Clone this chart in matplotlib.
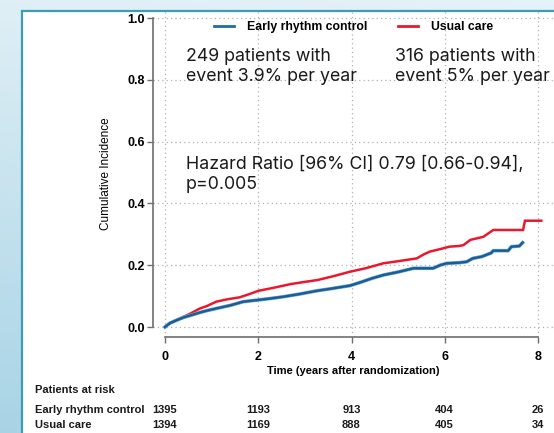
import numpy as np
import matplotlib
matplotlib.use("Agg")
import matplotlib.pyplot as plt
import matplotlib.patheffects as pe
from matplotlib.patches import Rectangle
from matplotlib.lines import Line2D

# ---- data ----
erc_t = [0.0, 0.1, 0.25, 0.4, 0.6, 0.75, 0.9, 1.1, 1.4, 1.68, 1.97, 2.25, 2.54, 2.9, 3.25, 3.6, 3.97, 4.2, 4.45, 4.68, 5.0, 5.33, 5.75, 5.9, 6.04, 6.3, 6.47, 6.6, 6.8, 7.0, 7.04, 7.36, 7.43, 7.6, 7.67]
erc_y = [0.0, 0.012, 0.022, 0.031, 0.040, 0.047, 0.053, 0.060, 0.070, 0.082, 0.087, 0.092, 0.098, 0.107, 0.117, 0.125, 0.134, 0.145, 0.158, 0.168, 0.178, 0.190, 0.190, 0.200, 0.206, 0.208, 0.211, 0.222, 0.228, 0.240, 0.247, 0.247, 0.260, 0.262, 0.273]
uc_t = [0.0, 0.1, 0.25, 0.5, 0.75, 0.9, 1.1, 1.35, 1.6, 1.8, 2.0, 2.3, 2.7, 3.0, 3.27, 3.6, 3.97, 4.3, 4.68, 5.0, 5.4, 5.55, 5.68, 5.9, 6.1, 6.3, 6.4, 6.55, 6.83, 7.04, 7.68, 7.72, 8.07]
uc_y = [0.0, 0.013, 0.023, 0.040, 0.060, 0.068, 0.082, 0.090, 0.096, 0.106, 0.117, 0.126, 0.139, 0.146, 0.152, 0.164, 0.179, 0.190, 0.206, 0.213, 0.222, 0.235, 0.244, 0.252, 0.260, 0.262, 0.265, 0.282, 0.292, 0.314, 0.314, 0.344, 0.344]

series_labels = ["Early rhythm control", "Usual care"]
x_ticks = [0, 2, 4, 6, 8]
y_ticks = [0.0, 0.2, 0.4, 0.6, 0.8, 1.0]
risk_erc = [1395, 1193, 913, 404, 26]
risk_uc = [1394, 1169, 888, 405, 34]

BLUE = "#1d5b95"
BLUE_LEG = "#1f6ca8"
RED = "#e8192c"

W, H = 554, 433
fig = plt.figure(figsize=(W / 100, H / 100), dpi=100)

# background gradient
bg = fig.add_axes([0, 0, 1, 1], zorder=-10)
gy = np.linspace(0, 1, 200)[:, None]
gx = np.linspace(0, 1, 200)[None, :]
c_top = np.array([0.90, 0.95, 0.97])
c_bot = np.array([0.66, 0.83, 0.90])
f = np.clip(gy * 0.9 + (1 - gx) * 0.1, 0, 1)[..., None]
img = c_top * (1 - f) + c_bot * f
bg.imshow(img, aspect="auto", extent=[0, 1, 0, 1], origin="upper")
bg.set_xlim(0, 1); bg.set_ylim(0, 1)
bg.axis("off")
# white panel with teal border
px0, py0 = 22 / W, 1 - 11 / H
bg.add_patch(Rectangle((px0, -0.05), 1.1, py0 + 0.05, facecolor="white",
                       edgecolor="#3a9cb6", linewidth=1.6, zorder=2))

# main axes
x_left_px, x_right_px = 153, 554
y_top_px, y_bot_px = 10.3, 337
ax = fig.add_axes([x_left_px / W, (H - y_bot_px) / H,
                   (x_right_px - x_left_px) / W, (y_bot_px - y_top_px) / H])
ax.set_facecolor("none")
ppx = (538 - 165) / 8.0
ax.set_xlim(-(165 - x_left_px) / ppx, 8 + (x_right_px - 538) / ppx)
ppy = (327 - 18) / 1.0
ax.set_ylim(-(y_bot_px - 327) / ppy, 1 + (18 - y_top_px) / ppy)

ax.grid(True, color="#b0b0b0", linestyle=(0, (1, 2.5)), linewidth=0.9)
ax.set_xticks(x_ticks)
ax.set_yticks(y_ticks)
ax.set_xticklabels([str(v) for v in x_ticks])
ax.set_yticklabels([f"{v:.1f}" for v in y_ticks])
for s in ["top", "right"]:
    ax.spines[s].set_visible(False)
ax.spines["left"].set_bounds(0, 1)
ax.spines["bottom"].set_bounds(0, 8)
for s in ["left", "bottom"]:
    ax.spines[s].set_color("#6e6e6e")
    ax.spines[s].set_linewidth(1.2)
ax.tick_params(axis="both", colors="#6e6e6e", length=4, width=1.0)
for lab in ax.get_xticklabels() + ax.get_yticklabels():
    lab.set_color("black")
    lab.set_fontfamily(["Liberation Sans", "DejaVu Sans"])
    lab.set_fontweight("bold")
    lab.set_fontsize(9)
ax.tick_params(axis="y", pad=2)
ax.tick_params(axis="x", pad=6)

ax.set_ylabel("Cumulative Incidence", family=["Liberation Sans Narrow", "Liberation Sans"],
              fontsize=8.5, labelpad=11)
ax.set_xlabel("Time (years after randomization)", family=["Liberation Sans", "DejaVu Sans"],
              fontweight="bold", fontsize=8, labelpad=2)

ax.plot(uc_t, uc_y, color=RED, linewidth=1.8, zorder=3, solid_joinstyle="miter")
ax.plot(erc_t, erc_y, color=BLUE, linewidth=1.7, zorder=4,
        path_effects=[pe.Stroke(linewidth=2.6, foreground="#6aaad6"), pe.Normal()])

handles = [Line2D([], [], color=BLUE_LEG, lw=2), Line2D([], [], color=RED, lw=2)]
ax.legend(handles, series_labels, loc="upper center", bbox_to_anchor=(0.5, 1.0),
          ncol=2, frameon=False, handlelength=1.64, columnspacing=2.5, handletextpad=1.05,
          prop=dict(family="Liberation Sans", weight="bold", size=8.8))

annot = dict(family=["Inter", "DejaVu Sans"], fontsize=12.8, color="#1a1a1a",
             linespacing=1.2, va="top", ha="left")
ax.text(0.45, 0.902, "249 patients with\nevent 3.9% per year", **annot)
ax.text(4.93, 0.902, "316 patients with\nevent 5% per year", **annot)
ax.text(0.45, 0.553, "Hazard Ratio [96% CI] 0.79 [0.66-0.94],\np=0.005", **annot)

# patients at risk table
rf = dict(family=["Liberation Sans", "DejaVu Sans"], fontsize=8, fontweight="bold",
          color="#1a1a1a")
fig.text(35 / W, 1 - 390 / H, "Patients at risk", va="center", **rf)
fig.text(35 / W, 1 - 410 / H, series_labels[0], va="center", **rf)
fig.text(35 / W, 1 - 425 / H, series_labels[1], va="center", **rf)
trans = ax.get_xaxis_transform()
axh = y_bot_px - y_top_px
for t, a, b in zip(x_ticks, risk_erc, risk_uc):
    ax.text(t, -(410 - y_bot_px) / axh, str(a), transform=trans, ha="center", va="center", **rf)
    ax.text(t, -(425 - y_bot_px) / axh, str(b), transform=trans, ha="center", va="center", **rf)

fig.savefig("out.png", dpi=100)
